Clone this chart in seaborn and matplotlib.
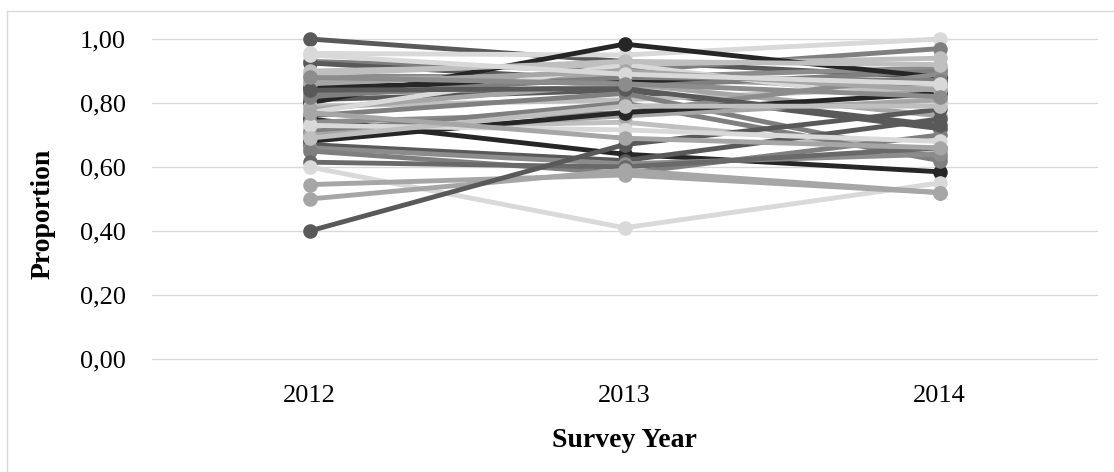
import matplotlib
matplotlib.use("Agg")
import matplotlib.pyplot as plt
from matplotlib.lines import Line2D
import numpy as np
import pandas as pd
import seaborn as sns

# Survey years and the proportion recorded for each unit in each year
years = [2012, 2013, 2014]
year_labels = ["2012", "2013", "2014"]

p2012 = [1.00, 0.955, 0.93, 0.925, 0.90, 0.885, 0.87, 0.85, 0.83, 0.81,
         0.80, 0.79, 0.78, 0.77, 0.76, 0.75, 0.74, 0.72, 0.71, 0.70,
         0.68, 0.67, 0.66, 0.65, 0.615, 0.60, 0.545, 0.50, 0.40, 0.89,
         0.86, 0.82, 0.73, 0.84, 0.95, 0.69, 0.88, 0.77]
p2013 = [0.93, 0.95, 0.90, 0.87, 0.92, 0.88, 0.89, 0.87, 0.85, 0.84,
         0.984, 0.81, 0.86, 0.92, 0.83, 0.64, 0.77, 0.74, 0.80, 0.76,
         0.77, 0.62, 0.61, 0.58, 0.60, 0.41, 0.575, 0.59, 0.67, 0.93,
         0.90, 0.88, 0.716, 0.845, 0.89, 0.79, 0.86, 0.69]
p2014 = [0.88, 1.00, 0.97, 0.86, 0.94, 0.91, 0.83, 0.87, 0.90, 0.72,
         0.88, 0.85, 0.76, 0.80, 0.63, 0.585, 0.89, 0.65, 0.62, 0.81,
         0.83, 0.75, 0.64, 0.70, 0.66, 0.55, 0.52, 0.52, 0.78, 0.92,
         0.84, 0.87, 0.68, 0.73, 0.86, 0.79, 0.82, 0.66]

series_colors = ["#595959", "#d9d9d9", "#7f7f7f", "#595959", "#bfbfbf",
                 "#8c8c8c", "#a6a6a6", "#262626", "#7f7f7f", "#595959",
                 "#262626", "#bfbfbf", "#a6a6a6", "#d9d9d9", "#7f7f7f",
                 "#262626", "#8c8c8c", "#bfbfbf", "#7f7f7f", "#a6a6a6",
                 "#262626", "#595959", "#8c8c8c", "#7f7f7f", "#696969",
                 "#d9d9d9", "#a6a6a6", "#a6a6a6", "#595959", "#bfbfbf",
                 "#a6a6a6", "#7f7f7f", "#d9d9d9", "#595959", "#d9d9d9",
                 "#bfbfbf", "#8c8c8c", "#a6a6a6"]

y_ticks = [0.0, 0.2, 0.4, 0.6, 0.8, 1.0]
y_tick_labels = ["0,00", "0,20", "0,40", "0,60", "0,80", "1,00"]

# Long-form table: one row per unit and year
names = [f"U{i + 1:02d}" for i in range(len(p2012))]
rows = []
for name, a, b, c in zip(names, p2012, p2013, p2014):
    for yr, v in zip(years, (a, b, c)):
        rows.append({"unit": name, "year": yr, "proportion": v})
df = pd.DataFrame(rows)
palette = dict(zip(names, series_colors))

sns.set_theme(style="white")
plt.rcParams["font.family"] = ["Liberation Serif", "DejaVu Serif"]
plt.rcParams.update({"text.color": "black", "axes.labelcolor": "black",
                     "xtick.color": "black", "ytick.color": "black"})

fig = plt.figure(figsize=(11.14, 4.72), dpi=100)
ax = fig.add_axes([152 / 1114, 1 - 359 / 472, (1097 - 152) / 1114, 320 / 472])

sns.lineplot(data=df, x="year", y="proportion", hue="unit", palette=palette,
             hue_order=names, marker="o", markersize=10.5, markeredgewidth=0,
             linewidth=3.5, legend=False, ax=ax, clip_on=False)

ax.set_xlim(2011.5, 2014.5)
ax.set_ylim(0, 1.0)
ax.set_xticks(years)
ax.set_xticklabels(year_labels, fontsize=19)
ax.set_yticks(y_ticks)
ax.set_yticklabels(y_tick_labels, fontsize=19)
ax.tick_params(axis="x", length=0, pad=19)
ax.tick_params(axis="y", length=0, pad=19)
ax.yaxis.grid(True, color="#d9d9d9", linewidth=1.0, zorder=0)
for gl in ax.get_ygridlines():
    gl.set_clip_on(False)
ax.set_axisbelow(True)
for s in ax.spines.values():
    s.set_visible(False)

ax.set_xlabel("Survey Year", fontsize=20, fontweight="bold", labelpad=15)
ax.set_ylabel("Proportion", fontsize=20, fontweight="bold")
ax.yaxis.set_label_coords((56 - 152) / 945, (359 - 214) / 320)

# Light frame around the chart area
fig.add_artist(Line2D([7 / 1114, 1.0], [1 - 11 / 472, 1 - 11 / 472],
                      transform=fig.transFigure, color="#d9d9d9", linewidth=1.0))
fig.add_artist(Line2D([7 / 1114, 7 / 1114], [0.0, 1 - 11 / 472],
                      transform=fig.transFigure, color="#d9d9d9", linewidth=1.0))

fig.savefig("out.png", dpi=100)
